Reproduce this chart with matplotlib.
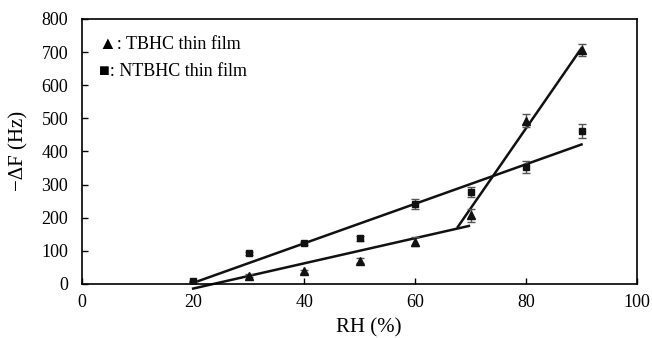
import matplotlib.pyplot as plt
import numpy as np

plt.rcParams['font.family'] = ['Liberation Serif', 'DejaVu Serif']
plt.rcParams['font.size'] = 13

rh = [20, 30, 40, 50, 60, 70, 80, 90]
tbhc = [5, 25, 38, 70, 128, 207, 493, 705]
tbhc_err = [0, 5, 5, 8, 15, 20, 20, 18]
ntbhc = [10, 92, 123, 138, 240, 278, 352, 462]
ntbhc_err = [0, 5, 5, 8, 15, 15, 18, 20]

# fitted trend lines (endpoints)
fit_tbhc_low_x = [20, 69.7]
fit_tbhc_low_y = [-14, 175]
fit_tbhc_high_x = [67.7, 90]
fit_tbhc_high_y = [172, 712]
fit_ntbhc_x = [20, 90]
fit_ntbhc_y = [3, 421]


def main():
    fig = plt.figure(figsize=(6.52, 3.38), dpi=100)
    ax = fig.add_axes([0.126, 0.160, 0.851, 0.784])

    ax.plot(fit_tbhc_low_x, fit_tbhc_low_y, color='#111111', lw=1.8, clip_on=False, zorder=2)
    ax.plot(fit_tbhc_high_x, fit_tbhc_high_y, color='#111111', lw=1.8, clip_on=False, zorder=2)
    ax.plot(fit_ntbhc_x, fit_ntbhc_y, color='#111111', lw=1.8, clip_on=False, zorder=2)

    ax.errorbar(rh, tbhc, yerr=tbhc_err, fmt='^', color='#111111', ms=6,
                ecolor='#555555', elinewidth=1, capsize=3, capthick=1, zorder=3)
    ax.errorbar(rh, ntbhc, yerr=ntbhc_err, fmt='s', color='#111111', ms=5,
                ecolor='#555555', elinewidth=1, capsize=3, capthick=1, zorder=3)

    ax.text(3.1, 722, '\u25b2: TBHC thin film', fontsize=13, va='center')
    ax.text(3.1, 640, '\u25a0: NTBHC thin film', fontsize=13, va='center')

    ax.set_xlim(0, 100)
    ax.set_ylim(0, 800)
    ax.set_xticks(np.arange(0, 101, 20))
    ax.set_yticks(np.arange(0, 801, 100))
    ax.tick_params(direction='in', length=4, width=1, labelsize=13)
    ax.tick_params(axis='y', pad=10)
    ax.tick_params(axis='x', pad=7)
    for s in ax.spines.values():
        s.set_linewidth(1.2)
    ax.set_xlabel('RH (%)', fontsize=15, labelpad=3)
    ax.xaxis.set_label_coords(0.516, -0.13)
    ax.set_ylabel('\u2212\u0394F (Hz)', fontsize=15, labelpad=9)

    fig.savefig('out.png', dpi=100)


if __name__ == '__main__':
    main()
